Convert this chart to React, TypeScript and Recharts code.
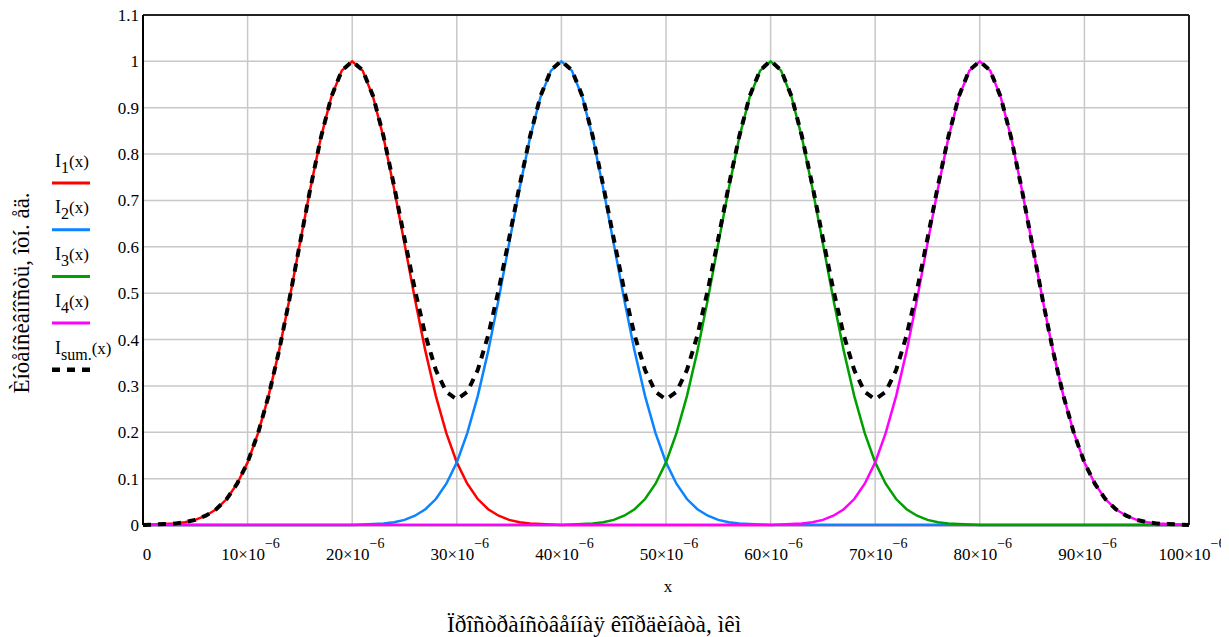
import React from 'react';
import { LineChart, Line, XAxis, YAxis, CartesianGrid, ReferenceLine } from 'recharts';

// x positions in micrometres (values shown on axis as N×10^-6)
const xUm = [
  0, 1, 2, 3, 4, 5, 6, 7, 8, 9, 10, 11, 12, 13, 14, 15, 16, 17, 18, 19,
  20, 21, 22, 23, 24, 25, 26, 27, 28, 29, 30, 31, 32, 33, 34, 35, 36, 37, 38, 39,
  40, 41, 42, 43, 44, 45, 46, 47, 48, 49, 50, 51, 52, 53, 54, 55, 56, 57, 58, 59,
  60, 61, 62, 63, 64, 65, 66, 67, 68, 69, 70, 71, 72, 73, 74, 75, 76, 77, 78, 79,
  80, 81, 82, 83, 84, 85, 86, 87, 88, 89, 90, 91, 92, 93, 94, 95, 96, 97, 98, 99, 100,
];

const I1 = [
  0.000, 0.001, 0.002, 0.003, 0.006, 0.011, 0.020, 0.034, 0.056, 0.089,
  0.135, 0.198, 0.278, 0.375, 0.487, 0.607, 0.726, 0.835, 0.923, 0.980,
  1.000, 0.980, 0.923, 0.835, 0.726, 0.607, 0.487, 0.375, 0.278, 0.198,
  0.135, 0.089, 0.056, 0.034, 0.020, 0.011, 0.006, 0.003, 0.002, 0.001,
  0, 0, 0, 0, 0, 0, 0, 0, 0, 0,
  0, 0, 0, 0, 0, 0, 0, 0, 0, 0,
  0, 0, 0, 0, 0, 0, 0, 0, 0, 0,
  0, 0, 0, 0, 0, 0, 0, 0, 0, 0,
  0, 0, 0, 0, 0, 0, 0, 0, 0, 0,
  0, 0, 0, 0, 0, 0, 0, 0, 0, 0,
  0,
];

const I2 = [
  0, 0, 0, 0, 0, 0, 0, 0, 0, 0,
  0, 0, 0, 0, 0, 0, 0, 0, 0, 0,
  0.000, 0.001, 0.002, 0.003, 0.006, 0.011, 0.020, 0.034, 0.056, 0.089,
  0.135, 0.198, 0.278, 0.375, 0.487, 0.607, 0.726, 0.835, 0.923, 0.980,
  1.000, 0.980, 0.923, 0.835, 0.726, 0.607, 0.487, 0.375, 0.278, 0.198,
  0.135, 0.089, 0.056, 0.034, 0.020, 0.011, 0.006, 0.003, 0.002, 0.001,
  0, 0, 0, 0, 0, 0, 0, 0, 0, 0,
  0, 0, 0, 0, 0, 0, 0, 0, 0, 0,
  0, 0, 0, 0, 0, 0, 0, 0, 0, 0,
  0, 0, 0, 0, 0, 0, 0, 0, 0, 0,
  0,
];

const I3 = [
  0, 0, 0, 0, 0, 0, 0, 0, 0, 0,
  0, 0, 0, 0, 0, 0, 0, 0, 0, 0,
  0, 0, 0, 0, 0, 0, 0, 0, 0, 0,
  0, 0, 0, 0, 0, 0, 0, 0, 0, 0,
  0.000, 0.001, 0.002, 0.003, 0.006, 0.011, 0.020, 0.034, 0.056, 0.089,
  0.135, 0.198, 0.278, 0.375, 0.487, 0.607, 0.726, 0.835, 0.923, 0.980,
  1.000, 0.980, 0.923, 0.835, 0.726, 0.607, 0.487, 0.375, 0.278, 0.198,
  0.135, 0.089, 0.056, 0.034, 0.020, 0.011, 0.006, 0.003, 0.002, 0.001,
  0, 0, 0, 0, 0, 0, 0, 0, 0, 0,
  0, 0, 0, 0, 0, 0, 0, 0, 0, 0,
  0,
];

const I4 = [
  0, 0, 0, 0, 0, 0, 0, 0, 0, 0,
  0, 0, 0, 0, 0, 0, 0, 0, 0, 0,
  0, 0, 0, 0, 0, 0, 0, 0, 0, 0,
  0, 0, 0, 0, 0, 0, 0, 0, 0, 0,
  0, 0, 0, 0, 0, 0, 0, 0, 0, 0,
  0, 0, 0, 0, 0, 0, 0, 0, 0, 0,
  0.000, 0.001, 0.002, 0.003, 0.006, 0.011, 0.020, 0.034, 0.056, 0.089,
  0.135, 0.198, 0.278, 0.375, 0.487, 0.607, 0.726, 0.835, 0.923, 0.980,
  1.000, 0.980, 0.923, 0.835, 0.726, 0.607, 0.487, 0.375, 0.278, 0.198,
  0.135, 0.089, 0.056, 0.034, 0.020, 0.011, 0.006, 0.003, 0.002, 0.001,
  0.000,
];

const Isum = [
  0.000, 0.001, 0.002, 0.003, 0.006, 0.011, 0.020, 0.034, 0.056, 0.089,
  0.135, 0.198, 0.278, 0.375, 0.487, 0.607, 0.726, 0.835, 0.923, 0.980,
  1.000, 0.981, 0.925, 0.838, 0.732, 0.618, 0.507, 0.409, 0.334, 0.287,
  0.271, 0.287, 0.334, 0.409, 0.507, 0.618, 0.732, 0.838, 0.925, 0.981,
  1.001, 0.981, 0.925, 0.838, 0.732, 0.618, 0.507, 0.409, 0.334, 0.287,
  0.271, 0.287, 0.334, 0.409, 0.507, 0.618, 0.732, 0.838, 0.925, 0.981,
  1.001, 0.981, 0.925, 0.838, 0.732, 0.618, 0.507, 0.409, 0.334, 0.287,
  0.271, 0.287, 0.334, 0.409, 0.507, 0.618, 0.732, 0.838, 0.925, 0.981,
  1.000, 0.980, 0.923, 0.835, 0.726, 0.607, 0.487, 0.375, 0.278, 0.198,
  0.135, 0.089, 0.056, 0.034, 0.020, 0.011, 0.006, 0.003, 0.002, 0.001,
  0.000,
];

const xTicks = [0, 10, 20, 30, 40, 50, 60, 70, 80, 90, 100];
const yTicks = [0, 0.1, 0.2, 0.3, 0.4, 0.5, 0.6, 0.7, 0.8, 0.9, 1, 1.1];

const yAxisTitle = 'Èíòåíñèâíîñòü, îòí. åä.';
const xAxisTitle = 'Ïðîñòðàíñòâåííàÿ êîîðäèíàòà, ìêì';
const xVarLabel = 'x';

const legendItems = [
  { sub: '1', color: '#ff0000', dashed: false },
  { sub: '2', color: '#0a84ff', dashed: false },
  { sub: '3', color: '#00a000', dashed: false },
  { sub: '4', color: '#ff00ff', dashed: false },
  { sub: 'sum.', color: '#000000', dashed: true },
];

const data = xUm.map((x, i) => ({
  x,
  i1: I1[i],
  i2: I2[i],
  i3: I3[i],
  i4: I4[i],
  sum: Isum[i],
}));

const FONT = '"Liberation Serif", "Times New Roman", serif';

const XTick = (props: any) => {
  const { x, payload } = props;
  const v = payload.value;
  if (v === 0) {
    return (
      <text x={x + 4} y={560} textAnchor="middle" fontFamily={FONT} fontSize={17} fill="#000">
        0
      </text>
    );
  }
  return (
    <text x={x + 3} y={560} textAnchor="middle" fontFamily={FONT} fontSize={17} fill="#000">
      {`${v}×10`}
      <tspan dy={-12} fontSize={14}>−6</tspan>
    </text>
  );
};

const yFmt = (v: number) => (v === 0 ? '0' : v === 1 ? '1' : v.toFixed(1));

export default function App() {
  const W = 1229;
  const H = 637;
  return (
    <div style={{ position: 'relative', width: W, height: H, marginTop: -8, marginLeft: -8 }}>
      <LineChart
        width={W}
        height={H}
        data={data}
        margin={{ top: 15, right: 40, bottom: 0, left: 0 }}
      >
        <CartesianGrid stroke="#c8c8c8" strokeWidth={1.5} />
        <XAxis
          dataKey="x"
          type="number"
          domain={[0, 100]}
          ticks={xTicks}
          height={112}
          tick={<XTick />}
          tickLine={false}
          axisLine={false}
          interval={0}
        />
        <YAxis
          type="number"
          domain={[0, 1.1]}
          ticks={yTicks}
          width={143}
          tickFormatter={yFmt}
          tickLine={false}
          tickSize={0}
          tickMargin={4}
          axisLine={{ stroke: '#000', strokeWidth: 2 }}
          tick={{ fontFamily: FONT, fontSize: 17, fill: '#000' }}
          interval={0}
        />
        <ReferenceLine y={1.1} stroke="#222" strokeWidth={2} />
        <ReferenceLine x={100} stroke="#222" strokeWidth={2} />
        <Line type="linear" dataKey="i1" stroke="#ff0000" strokeWidth={2.5} dot={false} isAnimationActive={false} />
        <Line type="linear" dataKey="i2" stroke="#0a84ff" strokeWidth={2.5} dot={false} isAnimationActive={false} />
        <Line type="linear" dataKey="i3" stroke="#00a000" strokeWidth={2.5} dot={false} isAnimationActive={false} />
        <Line type="linear" dataKey="i4" stroke="#ff00ff" strokeWidth={2.5} dot={false} isAnimationActive={false} />
        <Line
          type="linear"
          dataKey="sum"
          stroke="#000"
          strokeWidth={4}
          strokeDasharray="8 7"
          dot={false}
          isAnimationActive={false}
        />
      </LineChart>
      <svg
        width={W}
        height={H}
        style={{ position: 'absolute', left: 0, top: 0, pointerEvents: 'none' }}
      >
        <text
          transform="translate(29, 293) rotate(-90)"
          textAnchor="middle"
          fontFamily={FONT}
          fontSize={23}
          fill="#000"
        >
          {yAxisTitle}
        </text>
        <text x={668} y={592} textAnchor="middle" fontFamily={FONT} fontSize={17} fill="#000">
          {xVarLabel}
        </text>
        <text x={447} y={632} fontFamily={FONT} fontSize={23.5} fill="#000">
          {xAxisTitle}
        </text>
        {legendItems.map((it, k) => {
          const ty = 166.7 + k * 46.7;
          const ly = 183 + k * 46.7;
          return (
            <g key={k}>
              <text x={55} y={ty} fontFamily={FONT} fontSize={18} fill="#000">
                I
                <tspan dy={6} fontSize={16}>{it.sub}</tspan>
                <tspan dy={-6} fontSize={17}>(x)</tspan>
              </text>
              <line
                x1={52}
                x2={90}
                y1={ly}
                y2={ly}
                stroke={it.color}
                strokeWidth={it.dashed ? 4.5 : 3}
                strokeDasharray={it.dashed ? '8 7' : undefined}
              />
            </g>
          );
        })}
      </svg>
    </div>
  );
}
